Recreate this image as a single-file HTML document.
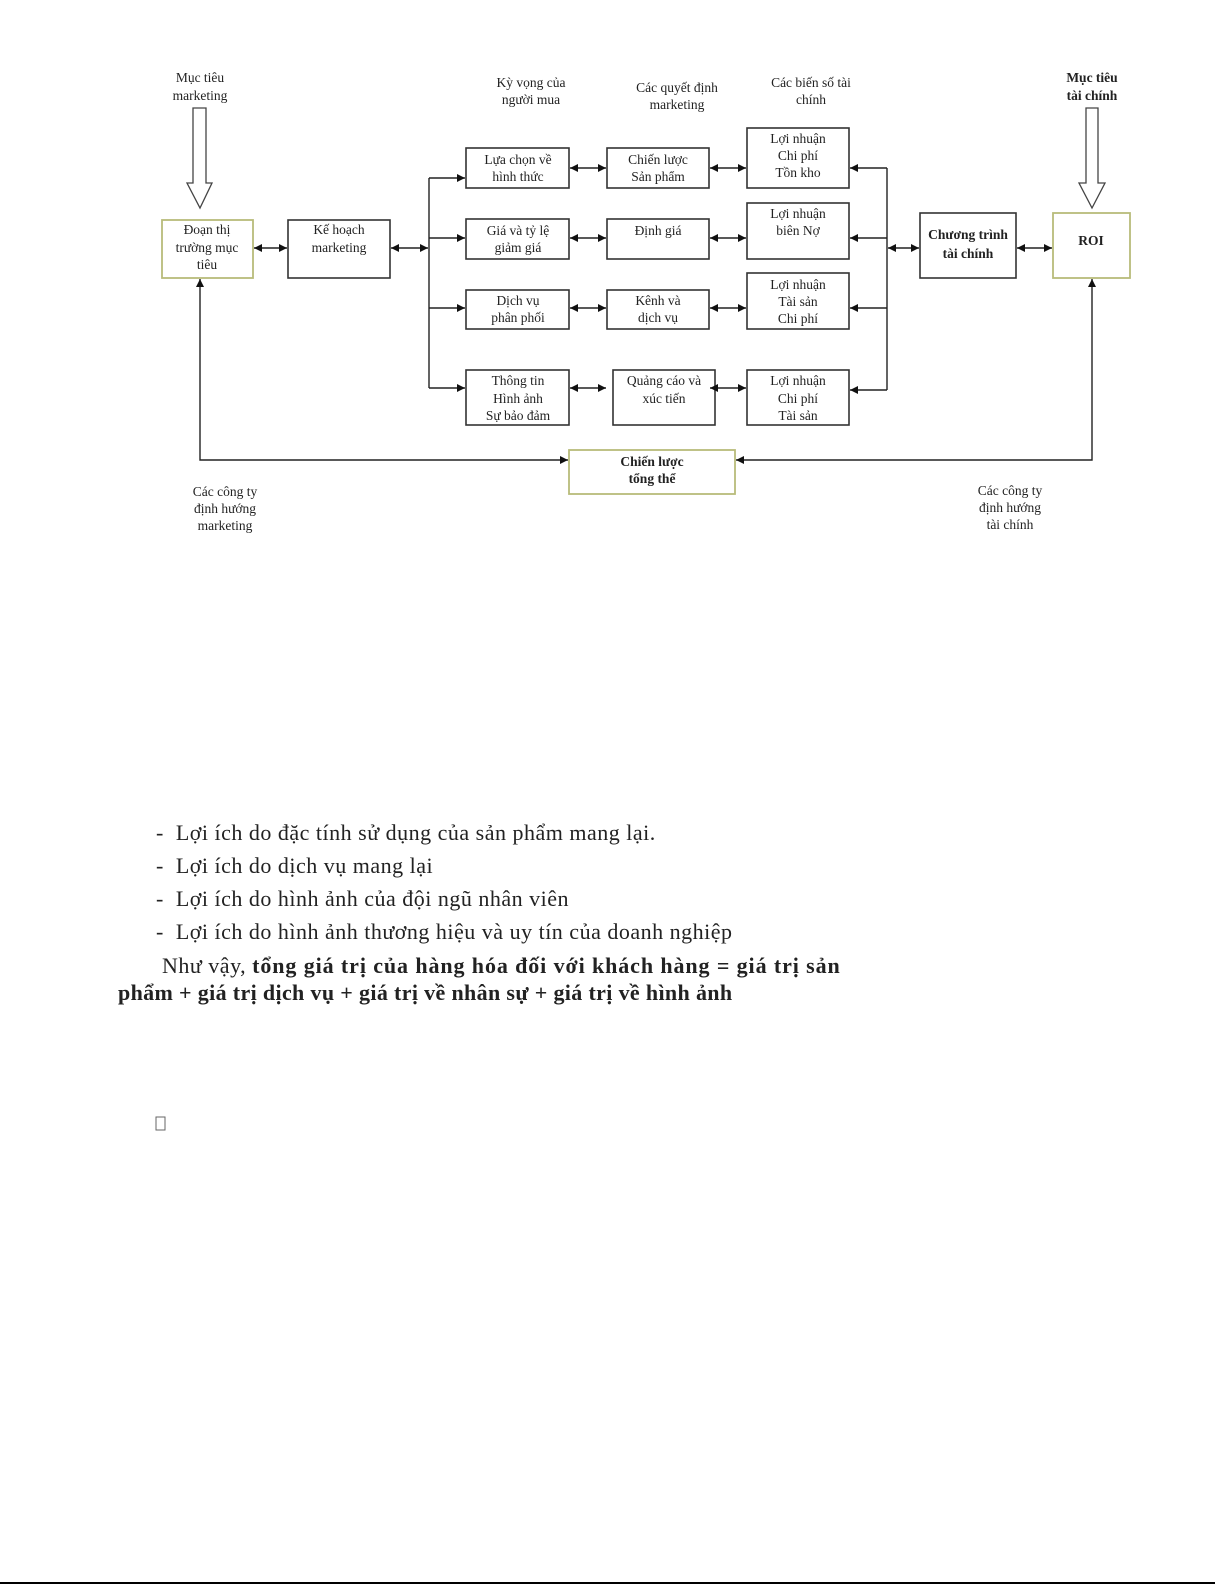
<!DOCTYPE html>
<html><head><meta charset="utf-8">
<style>
html,body{margin:0;padding:0;background:#fff;}
body{width:1225px;height:1585px;position:relative;overflow:hidden;font-family:"Liberation Serif",serif;}
svg{position:absolute;left:0;top:0;}
.t{font-family:"Liberation Serif",serif;font-size:13.5px;fill:#222;text-anchor:middle;}
.b{font-weight:bold;}
.box{fill:#fff;stroke:#333;stroke-width:1.6;}
.gbox{fill:#fff;stroke:#b8bc7a;stroke-width:1.8;}
.ln{stroke:#222;stroke-width:1.4;fill:none;}
.txt{position:absolute;font-family:"Liberation Serif",serif;font-size:22px;color:#222;white-space:nowrap;letter-spacing:0.5px;}
.txt b{letter-spacing:0.9px;}
.txt b.n{letter-spacing:0.35px;}
</style></head><body>
<svg width="1225" height="1585" viewBox="0 0 1225 1585">
<defs>
<marker id="a" viewBox="0 0 10 10" refX="10" refY="5" markerWidth="8" markerHeight="8" orient="auto-start-reverse" markerUnits="userSpaceOnUse"><path d="M0,0 L10,5 L0,10 z" fill="#111"/></marker>
</defs>
<path d="M193,108 H206 V183 H212 L200,208 L187,183 H193 Z" fill="#fff" stroke="#444" stroke-width="1.3"/>
<path d="M1086,108 H1098 V183 H1105 L1092,208 L1079,183 H1086 Z" fill="#fff" stroke="#444" stroke-width="1.3"/>
<text class="t" x="200" y="82">Mục tiêu</text><text class="t" x="200" y="100">marketing</text>
<text class="t" x="531" y="87">Kỳ vọng của</text><text class="t" x="531" y="104">người mua</text>
<text class="t" x="677" y="92">Các quyết định</text><text class="t" x="677" y="109">marketing</text>
<text class="t" x="811" y="87">Các biến số  tài</text><text class="t" x="811" y="104">chính</text>
<text class="t b" x="1092" y="82">Mục tiêu</text><text class="t b" x="1092" y="100">tài chính</text>
<rect class="gbox" x="162" y="220" width="91" height="58"/>
<text class="t" x="207" y="234">Đoạn thị</text><text class="t" x="207" y="252">trường mục</text><text class="t" x="207" y="269">tiêu</text>
<rect class="box" x="288" y="220" width="102" height="58"/>
<text class="t" x="339" y="234">Kế hoạch</text><text class="t" x="339" y="252">marketing</text>

<rect class="box" x="466" y="148" width="103" height="40"/>
<text class="t" x="518" y="164">Lựa chọn về</text><text class="t" x="518" y="181">hình thức</text>
<rect class="box" x="466" y="219" width="103" height="40"/>
<text class="t" x="518" y="235">Giá và tỷ lệ</text><text class="t" x="518" y="252">giảm giá</text>
<rect class="box" x="466" y="290" width="103" height="39"/>
<text class="t" x="518" y="305">Dịch vụ</text><text class="t" x="518" y="322">phân phối</text>
<rect class="box" x="466" y="370" width="103" height="55"/>
<text class="t" x="518" y="385">Thông tin</text><text class="t" x="518" y="403">Hình ảnh</text><text class="t" x="518" y="420">Sự bảo đảm</text>

<rect class="box" x="607" y="148" width="102" height="40"/>
<text class="t" x="658" y="164">Chiến lược</text><text class="t" x="658" y="181">Sản phẩm</text>
<rect class="box" x="607" y="219" width="102" height="40"/>
<text class="t" x="658" y="235">Định giá</text>
<rect class="box" x="607" y="290" width="102" height="39"/>
<text class="t" x="658" y="305">Kênh và</text><text class="t" x="658" y="322">dịch vụ</text>
<rect class="box" x="613" y="370" width="102" height="55"/>
<text class="t" x="664" y="385">Quảng cáo và</text><text class="t" x="664" y="403">xúc tiến</text>

<rect class="box" x="747" y="128" width="102" height="60"/>
<text class="t" x="798" y="143">Lợi nhuận</text><text class="t" x="798" y="160">Chi phí</text><text class="t" x="798" y="177">Tồn kho</text>
<rect class="box" x="747" y="203" width="102" height="56"/>
<text class="t" x="798" y="218">Lợi nhuận</text><text class="t" x="798" y="235">biên Nợ</text>
<rect class="box" x="747" y="273" width="102" height="56"/>
<text class="t" x="798" y="289">Lợi nhuận</text><text class="t" x="798" y="306">Tài sản</text><text class="t" x="798" y="323">Chi phí</text>
<rect class="box" x="747" y="370" width="102" height="55"/>
<text class="t" x="798" y="385">Lợi nhuận</text><text class="t" x="798" y="403">Chi phí</text><text class="t" x="798" y="420">Tài sản</text>

<rect class="box" x="920" y="213" width="96" height="65"/>
<text class="t b" x="968" y="239">Chương trình</text><text class="t b" x="968" y="258">tài chính</text>
<rect class="gbox" x="1053" y="213" width="77" height="65"/>
<text class="t b" x="1091" y="245">ROI</text>

<rect class="gbox" x="569" y="450" width="166" height="44"/>
<text class="t b" x="652" y="466">Chiến lược</text><text class="t b" x="652" y="483">tổng thể</text>

<line class="ln" x1="254" y1="248" x2="287" y2="248" marker-start="url(#a)" marker-end="url(#a)"/>
<line class="ln" x1="391" y1="248" x2="428" y2="248" marker-start="url(#a)" marker-end="url(#a)"/>
<line class="ln" x1="429" y1="178" x2="429" y2="388"/>
<line class="ln" x1="429" y1="178" x2="465" y2="178" marker-end="url(#a)"/>
<line class="ln" x1="429" y1="238" x2="465" y2="238" marker-end="url(#a)"/>
<line class="ln" x1="429" y1="308" x2="465" y2="308" marker-end="url(#a)"/>
<line class="ln" x1="429" y1="388" x2="465" y2="388" marker-end="url(#a)"/>
<line class="ln" x1="570" y1="168" x2="606" y2="168" marker-start="url(#a)" marker-end="url(#a)"/>
<line class="ln" x1="570" y1="238" x2="606" y2="238" marker-start="url(#a)" marker-end="url(#a)"/>
<line class="ln" x1="570" y1="308" x2="606" y2="308" marker-start="url(#a)" marker-end="url(#a)"/>
<line class="ln" x1="570" y1="388" x2="606" y2="388" marker-start="url(#a)" marker-end="url(#a)"/>
<line class="ln" x1="710" y1="168" x2="746" y2="168" marker-start="url(#a)" marker-end="url(#a)"/>
<line class="ln" x1="710" y1="238" x2="746" y2="238" marker-start="url(#a)" marker-end="url(#a)"/>
<line class="ln" x1="710" y1="308" x2="746" y2="308" marker-start="url(#a)" marker-end="url(#a)"/>
<line class="ln" x1="710" y1="388" x2="746" y2="388" marker-start="url(#a)" marker-end="url(#a)"/>
<line class="ln" x1="887" y1="168" x2="887" y2="390"/>
<line class="ln" x1="887" y1="168" x2="850" y2="168" marker-end="url(#a)"/>
<line class="ln" x1="887" y1="238" x2="850" y2="238" marker-end="url(#a)"/>
<line class="ln" x1="887" y1="308" x2="850" y2="308" marker-end="url(#a)"/>
<line class="ln" x1="887" y1="390" x2="850" y2="390" marker-end="url(#a)"/>
<line class="ln" x1="888" y1="248" x2="919" y2="248" marker-start="url(#a)" marker-end="url(#a)"/>
<line class="ln" x1="1017" y1="248" x2="1052" y2="248" marker-start="url(#a)" marker-end="url(#a)"/>
<path class="ln" d="M568,460 H200 V279" marker-start="url(#a)" marker-end="url(#a)"/>
<path class="ln" d="M736,460 H1092 V279" marker-start="url(#a)" marker-end="url(#a)"/>

<text class="t" x="225" y="496">Các công ty</text><text class="t" x="225" y="513">định hướng</text><text class="t" x="225" y="530">marketing</text>
<text class="t" x="1010" y="495">Các công ty</text><text class="t" x="1010" y="512">định hướng</text><text class="t" x="1010" y="529">tài chính</text>

<rect x="156" y="1117" width="9" height="13" fill="none" stroke="#666" stroke-width="1"/>
<line x1="0" y1="1583" x2="1215" y2="1583" stroke="#000" stroke-width="2"/>
</svg>
<div class="txt" style="left:156px;top:820px;">-&nbsp; Lợi ích do đặc tính sử dụng của sản phẩm mang lại.</div>
<div class="txt" style="left:156px;top:853px;">-&nbsp; Lợi ích do dịch vụ mang lại</div>
<div class="txt" style="left:156px;top:886px;">-&nbsp; Lợi ích do hình ảnh của đội ngũ nhân viên</div>
<div class="txt" style="left:156px;top:919px;">-&nbsp; Lợi ích do hình ảnh thương hiệu và uy tín của doanh nghiệp</div>
<div class="txt" style="left:162px;top:953px;">Như vậy, <b>tổng giá trị của hàng hóa đối với khách hàng = giá trị sản</b></div>
<div class="txt" style="left:118px;top:980px;"><b class="n">phẩm + giá trị dịch vụ + giá trị về nhân sự + giá trị về hình ảnh</b></div>
</body></html>
